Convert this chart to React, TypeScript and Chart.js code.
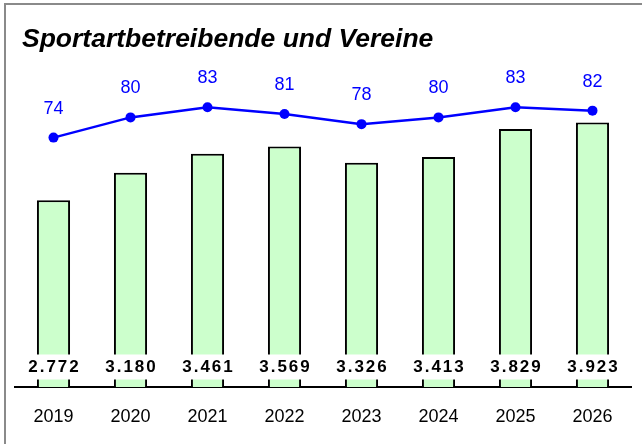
import React, { useEffect, useRef } from "react";
import { Chart, registerables } from "chart.js";

Chart.register(...registerables);

const TITLE = "Sportartbetreibende und Vereine";
const years = ["2019", "2020", "2021", "2022", "2023", "2024", "2025", "2026"];
const members = [2772, 3180, 3461, 3569, 3326, 3413, 3829, 3923];
const clubs = [74, 80, 83, 81, 78, 80, 83, 82];

const FONT = '"Liberation Sans", Arial, Helvetica, sans-serif';

function fmt(n: number): string {
  const s = String(n);
  return s.replace(/\B(?=(\d{3})+(?!\d))/g, ".");
}

const decor = {
  id: "decor",
  beforeDraw(chart: any) {
    const ctx = chart.ctx as CanvasRenderingContext2D;
    const w = chart.width;
    const h = chart.height;
    ctx.save();
    ctx.fillStyle = "#ffffff";
    ctx.fillRect(0, 0, w, h);
    ctx.fillStyle = "#8a8a8a";
    ctx.fillRect(4, 3, w - 4, 2);
    ctx.fillRect(4, 3, 2, h - 3);
    ctx.fillStyle = "#000000";
    ctx.font = `italic bold 26.5px ${FONT}`;
    ctx.textAlign = "left";
    ctx.textBaseline = "alphabetic";
    ctx.fillText(TITLE, 22, 47);
    ctx.restore();
  },
  afterDraw(chart: any) {
    const ctx = chart.ctx as CanvasRenderingContext2D;
    ctx.save();
    // bar value labels
    const barMeta = chart.getDatasetMeta(1);
    ctx.font = `bold 17px ${FONT}`;
    (ctx as any).letterSpacing = "2px";
    ctx.textAlign = "center";
    ctx.textBaseline = "middle";
    barMeta.data.forEach((el: any, i: number) => {
      const text = fmt(members[i]);
      const tw = ctx.measureText(text).width;
      const cy = chart.chartArea.bottom - 20;
      ctx.fillStyle = "#ffffff";
      ctx.fillRect(el.x - tw / 2 - 4, cy - 12.5, tw + 8, 25);
      ctx.fillStyle = "#000000";
      ctx.fillText(text, el.x + 1, cy + 0.5);
    });
    // line labels
    (ctx as any).letterSpacing = "0px";
    const lineMeta = chart.getDatasetMeta(0);
    ctx.font = `18px ${FONT}`;
    ctx.fillStyle = "#0000ff";
    lineMeta.data.forEach((el: any, i: number) => {
      ctx.fillText(String(clubs[i]), el.x, el.y - 29);
    });
    ctx.restore();
  },
};

export default function App() {
  const ref = useRef<HTMLCanvasElement>(null);
  useEffect(() => {
    const chart = new Chart(ref.current!, {
      type: "bar",
      data: {
        labels: years,
        datasets: [
          {
            type: "line",
            label: "Vereine",
            data: clubs,
            yAxisID: "y1",
            borderColor: "#0000ff",
            backgroundColor: "#0000ff",
            borderWidth: 2.5,
            pointRadius: 5,
            pointBorderWidth: 0,
            pointBackgroundColor: "#0000ff",
            tension: 0,
            order: 0,
          } as any,
          {
            type: "bar",
            label: "Sportartbetreibende",
            data: members,
            yAxisID: "y",
            backgroundColor: "#ccffcc",
            borderColor: "#000000",
            borderWidth: 2,
            categoryPercentage: 1,
            barPercentage: 0.43,
            order: 1,
          },
        ],
      },
      plugins: [decor],
      options: {
        responsive: false,
        animation: false,
        devicePixelRatio: 1,
        layout: { padding: { left: 15, right: 11, top: 50, bottom: 0 } },
        plugins: {
          legend: { display: false },
          tooltip: { enabled: false },
          title: { display: false },
        },
        scales: {
          x: {
            z: 1,
            grid: { display: false, drawTicks: false },
            border: { display: true, color: "#000000", width: 2 },
            ticks: {
              color: "#000000",
              font: { family: FONT, size: 18 },
              padding: 19,
              maxRotation: 0,
            },
            afterFit: (s: any) => {
              s.height = 57;
            },
          },
          y: { display: false, min: 0, max: 5000 },
          y1: { display: false, min: 0, max: 100 },
        },
      },
    });
    return () => chart.destroy();
  }, []);
  return (
    <div style={{ position: "fixed", left: 0, top: 0, width: 642, height: 444, background: "#fff" }}>
      <canvas ref={ref} width={642} height={444} style={{ display: "block", width: 642, height: 444 }} />
    </div>
  );
}
